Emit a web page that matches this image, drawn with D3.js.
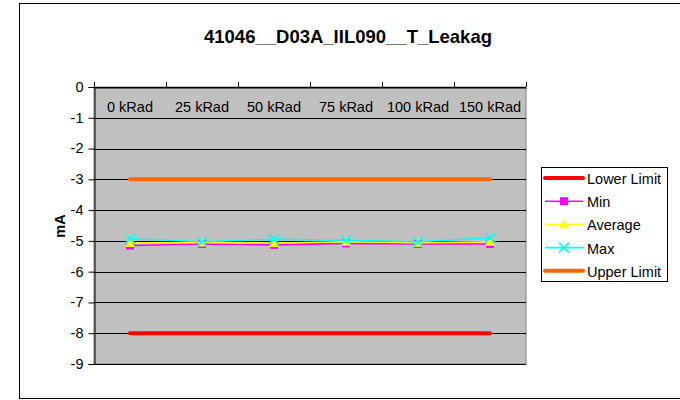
<!DOCTYPE html>
<html><head><meta charset="utf-8">
<script src="https://cdn.jsdelivr.net/npm/d3@7"></script>
<style>body{margin:0;background:#fff}svg{display:block;font-family:"Liberation Sans",Arial,sans-serif}</style>
</head><body><svg id="c" width="680" height="400"></svg>
<script>
const categories = ["0 kRad","25 kRad","50 kRad","75 kRad","100 kRad","150 kRad"];
const lowerLimit = [-8,-8,-8,-8,-8,-8];
const minVals = [-5.15,-5.1,-5.13,-5.08,-5.1,-5.1];
const avgVals = [-5.07,-5.05,-5.07,-5.03,-5.06,-5.03];
const maxVals = [-4.93,-5.03,-4.95,-4.98,-5.03,-4.9];
const upperLimit = [-3,-3,-3,-3,-3,-3];
const yTicks = [0,-1,-2,-3,-4,-5,-6,-7,-8,-9];
const title = "41046__D03A_IIL090__T_Leakag";

const FS = 14.5;
const svg = d3.select("#c");
svg.append("rect").attr("x",19.5).attr("y",3.5).attr("width",700).attr("height",395)
  .attr("fill","#fff").attr("stroke","#000").attr("stroke-width",1);

const L=94,R=526,T=87,B=364;
const x = d3.scaleBand().domain(categories).range([L,R]);
const y = d3.scaleLinear().domain([0,-9]).range([T,B]);

svg.append("rect").attr("x",L).attr("y",T).attr("width",R-L).attr("height",B-T)
  .attr("fill","#C0C0C0").attr("stroke","#808080").attr("stroke-width",1);

svg.append("g").selectAll("line").data(yTicks).join("line")
  .attr("x1",L).attr("x2",R).attr("y1",d=>Math.round(y(d))+0.5).attr("y2",d=>Math.round(y(d))+0.5)
  .attr("stroke","#000").attr("stroke-width",1);

const ya = svg.append("g").attr("transform",`translate(${L+0.5},0)`)
  .call(d3.axisLeft(y).tickValues(yTicks).tickSize(6).tickPadding(5).tickFormat(d=>String(d)));
ya.select(".domain").attr("stroke","#000");
ya.selectAll("text").attr("font-size",FS).attr("fill","#000").attr("dy","0.3em")
  .style("font-family","Liberation Sans, Arial, sans-serif");

const xa = svg.append("g").attr("transform",`translate(0,${T+0.5})`)
  .call(d3.axisTop(x).tickSize(5).tickSizeOuter(0).tickFormat(""));
xa.selectAll(".tick").remove();
xa.select(".domain").attr("stroke","#000");
const bounds = [L].concat(categories.map(c=>x(c)+x.bandwidth()));
svg.append("g").selectAll("line").data(bounds).join("line")
  .attr("x1",d=>d+0.5).attr("x2",d=>d+0.5).attr("y1",T-5).attr("y2",T).attr("stroke","#000");
svg.append("g").selectAll("text").data(categories).join("text")
  .attr("x",d=>x(d)+x.bandwidth()/2).attr("y",T+25).attr("text-anchor","middle")
  .attr("font-size",FS).text(d=>d);

const cx = c=>x(c)+x.bandwidth()/2;
const line = d3.line().x((d,i)=>cx(categories[i])).y(d=>y(d));

function plain(vals,color,w){
  svg.append("path").attr("d",line(vals)).attr("fill","none").attr("stroke",color)
    .attr("stroke-width",w).attr("stroke-linecap","round");
}
plain(lowerLimit,"#FF0000",4);
plain(upperLimit,"#FF6600",4);

const markers = {
  square:(g,color)=>g.append("rect").attr("x",-4).attr("y",-4).attr("width",8).attr("height",8).attr("fill",color),
  tri:(g,color)=>g.append("path").attr("d","M0,-5L5,4L-5,4Z").attr("fill",color),
  cross:(g,color)=>g.append("path").attr("d","M-5,-5L5,5M-5,5L5,-5").attr("stroke",color).attr("stroke-width",1.6).attr("fill","none")
};
function series(vals,color,m){
  svg.append("path").attr("d",line(vals)).attr("fill","none").attr("stroke",color).attr("stroke-width",1.6);
  vals.forEach((v,i)=>{
    const g = svg.append("g").attr("transform",`translate(${cx(categories[i])},${y(v)})`);
    markers[m](g,color);
  });
}
series(minVals,"#FF00FF","square");
series(avgVals,"#FFFF00","tri");
series(maxVals,"#00FFFF","cross");

svg.append("text").attr("x",348).attr("y",43).attr("text-anchor","middle")
  .attr("font-size",18.5).attr("font-weight","bold").text(title);
svg.append("text").attr("transform","translate(65,226) rotate(-90)").attr("text-anchor","middle")
  .attr("font-size",FS).attr("font-weight","bold").text("mA");

const lg = svg.append("g");
lg.append("rect").attr("x",541.5).attr("y",167.5).attr("width",126).attr("height",114)
  .attr("fill","#fff").attr("stroke","#000");
const items = [
  {name:"Lower Limit",color:"#FF0000",w:4,m:null},
  {name:"Min",color:"#FF00FF",w:1.6,m:"square"},
  {name:"Average",color:"#FFFF00",w:1.6,m:"tri"},
  {name:"Max",color:"#00FFFF",w:1.6,m:"cross"},
  {name:"Upper Limit",color:"#FF6600",w:4,m:null}
];
items.forEach((it,i)=>{
  const yy = 178 + i*23.2;
  lg.append("line").attr("x1",545).attr("x2",583).attr("y1",yy).attr("y2",yy)
    .attr("stroke",it.color).attr("stroke-width",it.w).attr("stroke-linecap",it.m?"butt":"round");
  if(it.m){ const g=lg.append("g").attr("transform",`translate(564,${yy})`); markers[it.m](g,it.color); }
  lg.append("text").attr("x",587).attr("y",yy+6).attr("font-size",FS).text(it.name);
});
</script></body></html>
